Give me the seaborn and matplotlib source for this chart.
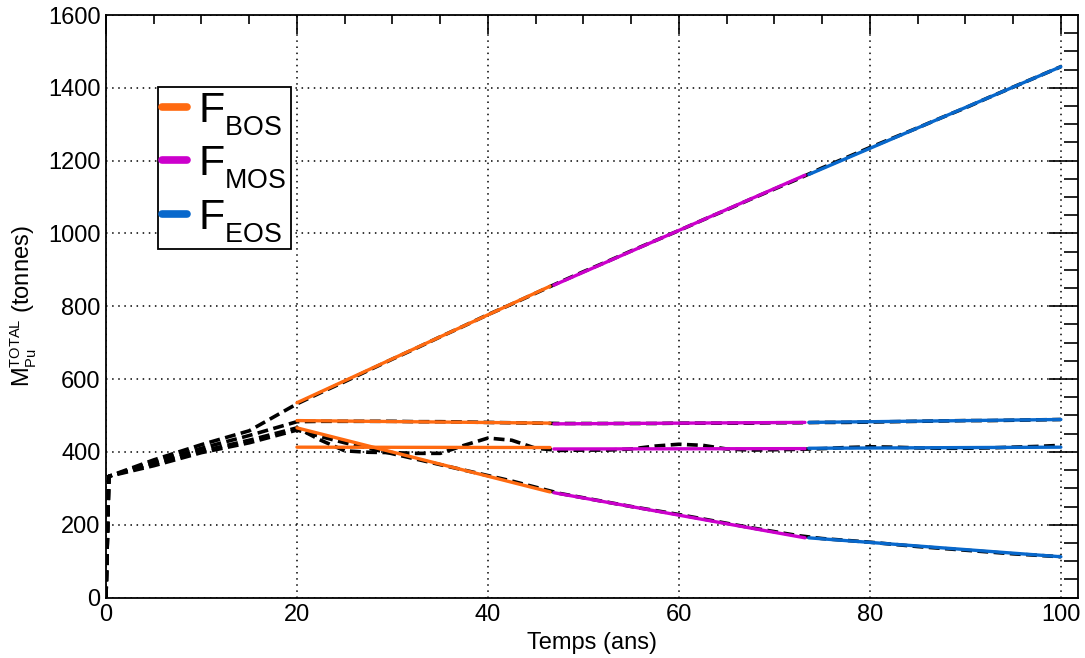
import numpy as np
import pandas as pd
import matplotlib
matplotlib.use("Agg")
import matplotlib.pyplot as plt
import matplotlib._mathtext as mathtext_internals
from matplotlib.lines import Line2D
from matplotlib.ticker import MultipleLocator
import seaborn as sns

# time axis (years) shared by the four dashed scenarios
t = [0, 0.3, 5, 10, 15, 20, 22.5, 25, 27.5, 30, 32.5, 35, 37.5, 40, 42.5, 45,
     47.5, 50, 52.5, 55, 57.5, 60, 62.5, 65, 67.5, 70, 72.5, 75, 77.5, 80,
     82.5, 85, 87.5, 90, 92.5, 95, 97.5, 100]

mass_a = [0, 333, 378, 420, 458, 532, 563, 593, 624, 655, 685, 716, 746, 777,
          806, 836, 866, 895, 923, 952, 980, 1008, 1037, 1065, 1094, 1122, 1150,
          1180, 1208, 1236, 1263, 1290, 1318, 1345, 1374, 1402, 1430, 1458]
mass_b = [0, 333, 372, 410, 445, 483, 484, 484, 484, 484, 483, 483, 482, 481,
          480, 479, 478, 478, 478, 478, 478, 479, 479, 479, 479, 480, 480, 481,
          481, 482, 483, 484, 485, 486, 486, 487, 488, 489]
mass_c = [0, 333, 368, 402, 432, 466, 432, 403, 399, 398, 396, 396, 418, 438,
          432, 410, 404, 405, 405, 408, 416, 421, 418, 408, 405, 406, 407, 409,
          412, 414, 413, 411, 410, 410, 411, 413, 415, 418]
mass_d = [0, 333, 362, 398, 425, 460, 442, 425, 410, 395, 380, 365, 350, 335,
          320, 303, 286, 274, 262, 250, 239, 228, 216, 204, 192, 181, 170, 162,
          157, 152, 146, 140, 135, 130, 125, 120, 116, 112]

# fitted straight segments for each fuel loading phase
seg_names = ["BOS", "MOS", "EOS"]
seg_t = {"BOS": [20, 46.5], "MOS": [46.9, 73.2], "EOS": [73.6, 100]}
fit_a = {"BOS": [535, 855], "MOS": [858, 1160], "EOS": [1162, 1458]}
fit_b = {"BOS": [486, 479], "MOS": [477, 481], "EOS": [481, 489]}
fit_c = {"BOS": [413, 412], "MOS": [408, 409], "EOS": [410, 413]}
fit_d = {"BOS": [466, 290], "MOS": [288, 164], "EOS": [164, 112]}
seg_colors = {"BOS": "#ff6a10", "MOS": "#cc00cc", "EOS": "#0868cc"}

sns.set_theme(style="white")
plt.rcParams["font.family"] = ["Liberation Sans", "DejaVu Sans"]
plt.rcParams["text.color"] = "black"
plt.rcParams["axes.labelcolor"] = "black"
plt.rcParams["mathtext.fontset"] = "custom"
plt.rcParams["mathtext.rm"] = "Liberation Sans"
plt.rcParams["mathtext.it"] = "Liberation Sans"
# ROOT-like subscripts: smaller and dropped lower than mathtext default
try:
    mathtext_internals.FontConstantsBase.sub1 = 0.6
    mathtext_internals.SHRINK_FACTOR = 0.62
except AttributeError:
    pass

fig = plt.figure(figsize=(10.85, 6.58), dpi=100)
ax = fig.add_axes([0.0977, 0.0919, 0.8959, 0.8853])

dash = (0, (3.0, 1.5))
for m in [mass_a, mass_b, mass_c, mass_d]:
    sns.lineplot(x=t, y=m, ax=ax, color="black", lw=2.6, estimator=None,
                 sort=False, zorder=3).lines[-1].set_linestyle(dash)

for fit in [fit_a, fit_b, fit_c, fit_d]:
    for s in seg_names:
        sns.lineplot(x=seg_t[s], y=fit[s], ax=ax, color=seg_colors[s], lw=2.4,
                     estimator=None, sort=False, zorder=4)

ax.set_xlim(0, 101.8)
ax.set_ylim(0, 1600)
ax.xaxis.set_major_locator(MultipleLocator(20))
ax.xaxis.set_minor_locator(MultipleLocator(5))
ax.yaxis.set_major_locator(MultipleLocator(200))
ax.yaxis.set_minor_locator(MultipleLocator(50))
ax.grid(True, which="major", color="black", lw=1.1, linestyle=(0, (1, 3)))

ax.tick_params(axis="both", which="both", direction="in", top=True, right=True,
               colors="black", labelsize=17, width=1.2)
ax.tick_params(axis="x", which="major", length=13.5, pad=5)
ax.tick_params(axis="x", which="minor", length=6.3)
ax.tick_params(axis="y", which="major", length=21, pad=4)
ax.tick_params(axis="y", which="minor", length=10)
for sp in ax.spines.values():
    sp.set_color("black")
    sp.set_linewidth(1.3)

ax.set_xlabel("Temps (ans)", fontsize=17, labelpad=4)
ax.set_ylabel(r"$\mathrm{M}_{\mathrm{Pu}}^{\mathrm{TOTAL}}$ (tonnes)",
              fontsize=17, labelpad=6)

handles = [Line2D([0], [0], color=seg_colors[s], lw=5.5) for s in seg_names]
labels = [r"$\mathrm{F}_{\mathrm{%s}}$" % s for s in seg_names]
leg = ax.legend(handles, labels, loc="upper left",
                bbox_to_anchor=(0.0535, 0.8764), borderaxespad=0,
                fontsize=31, handlelength=0.58, handletextpad=0.25,
                labelspacing=0.15, borderpad=0.1, fancybox=False,
                framealpha=1, edgecolor="black")
leg.get_frame().set_linewidth(1.3)
leg.set_zorder(10)
for txt in leg.get_texts():
    txt.set_color("black")

fig.savefig("out.png", dpi=100)
